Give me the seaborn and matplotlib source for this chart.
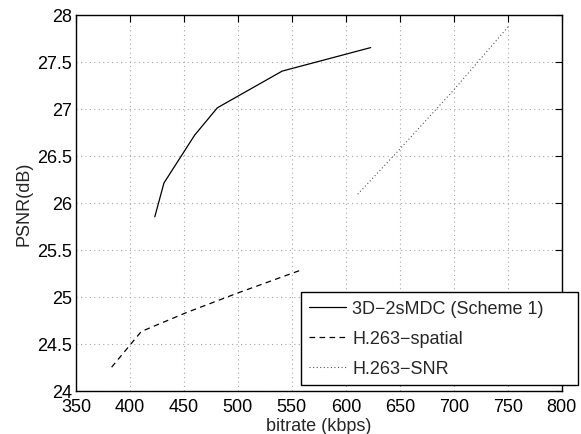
import matplotlib
matplotlib.use("Agg")
import matplotlib.pyplot as plt
import seaborn as sns
import pandas as pd

# Data
mdc_x = [423, 431.5, 460, 481, 541, 623]
mdc_y = [25.85, 26.21, 26.72, 27.01, 27.40, 27.65]

spatial_x = [383, 410.5, 452, 500, 560]
spatial_y = [24.25, 24.63, 24.83, 25.04, 25.29]

snr_x = [611, 650, 700, 751]
snr_y = [26.09, 26.57, 27.20, 27.88]

labels = ["3D\u22122sMDC (Scheme 1)", "H.263\u2212spatial", "H.263\u2212SNR"]
x_ticks = [350, 400, 450, 500, 550, 600, 650, 700, 750, 800]
y_ticks = [24, 24.5, 25, 25.5, 26, 26.5, 27, 27.5, 28]

sns.set_style("white")
plt.rcParams['font.family'] = ['Liberation Sans', 'DejaVu Sans']

fig = plt.figure(figsize=(5.81, 4.35), dpi=100)
ax = fig.add_axes([0.1308, 0.0995, 0.9668 - 0.1308, 0.9639 - 0.0995])

df_mdc = pd.DataFrame({"x": mdc_x, "y": mdc_y})
df_sp = pd.DataFrame({"x": spatial_x, "y": spatial_y})
df_snr = pd.DataFrame({"x": snr_x, "y": snr_y})

sns.lineplot(data=df_mdc, x="x", y="y", ax=ax, color="black", lw=0.9,
             sort=False, estimator=None, label=labels[0])
sns.lineplot(data=df_sp, x="x", y="y", ax=ax, color="black", lw=0.9,
             sort=False, estimator=None, label=labels[1], linestyle=(0, (4.5, 3.5)))
sns.lineplot(data=df_snr, x="x", y="y", ax=ax, color="#555555", lw=0.8,
             sort=False, estimator=None, label=labels[2], linestyle=(0, (1, 2.2)))

ax.set_xlim(350, 800)
ax.set_ylim(24, 28)
ax.set_xticks(x_ticks)
ax.set_yticks(y_ticks)
ax.set_xticklabels([f"{v:g}" for v in x_ticks])
ax.set_yticklabels([f"{v:g}" for v in y_ticks])

ax.grid(True, color="#a8a8a8", linestyle=(0, (1, 3)), linewidth=0.8)
ax.tick_params(direction="in", length=5, width=0.8, top=True, right=True,
               labelsize=13, colors="black")
ax.tick_params(axis="x", pad=5)
ax.tick_params(axis="y", pad=3)
for s in ax.spines.values():
    s.set_visible(True)
    s.set_color("black")
    s.set_linewidth(1.0)

ax.set_xlabel("bitrate (kbps)", fontsize=13, labelpad=2)
ax.set_ylabel("PSNR(dB)", fontsize=13, labelpad=3)

leg = ax.legend(loc="lower left", bbox_to_anchor=(300.7 / 581, 1 - 386 / 435, (577.7 - 300.7) / 581, 0.2),
                bbox_transform=fig.transFigure, mode="expand", fontsize=13,
                frameon=True, fancybox=False, edgecolor="black", framealpha=1,
                handlelength=2.05, handletextpad=0.35, labelspacing=0.72,
                borderpad=0.45, borderaxespad=0)
leg.get_frame().set_linewidth(1.0)

fig.savefig("out.png", dpi=100)
